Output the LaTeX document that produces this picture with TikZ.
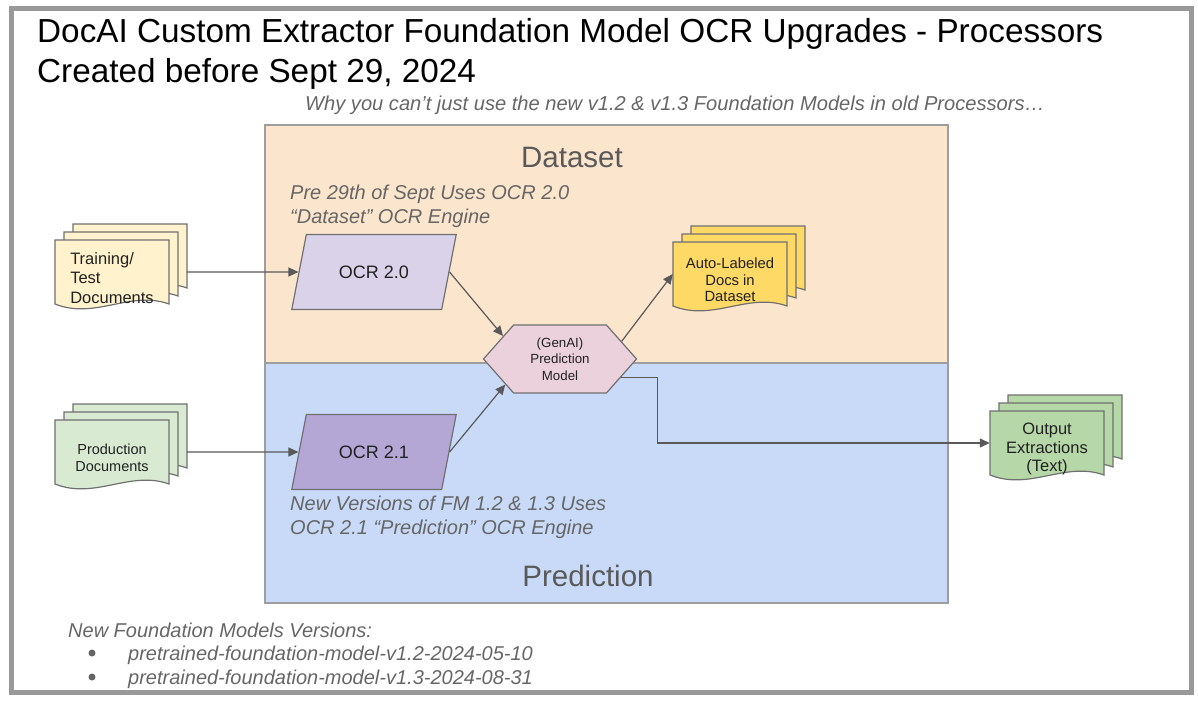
\documentclass[tikz,border=0pt]{standalone}
\usepackage{fontspec}
\setmainfont{Liberation Sans}
\usepackage{tikz}
\usetikzlibrary{shapes.geometric,shapes.symbols,arrows.meta}
\definecolor{framegray}{HTML}{999999}
\definecolor{regiongray}{HTML}{9E9E9E}
\definecolor{linegray}{HTML}{707070}
\definecolor{arrowgray}{HTML}{595959}
\definecolor{notegray}{HTML}{666666}
\definecolor{labelgray}{HTML}{595959}
\definecolor{textdark}{HTML}{212121}
\definecolor{datasetfill}{HTML}{FCE5CD}
\definecolor{predfill}{HTML}{C9DAF8}
\definecolor{ocrold}{HTML}{D9D2E9}
\definecolor{ocrnew}{HTML}{B4A7D6}
\definecolor{modelfill}{HTML}{EAD1DC}
\definecolor{trainfill}{HTML}{FFF2CC}
\definecolor{prodfill}{HTML}{D9EAD3}
\definecolor{autofill}{HTML}{FFD966}
\definecolor{outfill}{HTML}{B6D7A8}

\begin{document}
\begin{tikzpicture}[x=1pt, y=-1pt,
		arr/.style={draw=arrowgray, line width=1.2, -{Triangle[length=10,width=9]}},
		sheet/.style={draw=linegray, line width=1.2},
		doctext/.style={minimum width=114, minimum height=76, inner sep=0, text=textdark},
		ocrbox/.style={trapezium, trapezium left angle=67, trapezium right angle=113, trapezium stretches=true,
			minimum width=165, minimum height=75, draw=linegray, line width=1.2, text=textdark,
			font=\fontsize{18}{22}\selectfont},
		note/.style={text=notegray, font=\fontsize{20}{24}\selectfont\itshape, inner sep=0}]
	\useasboundingbox (0,0) rectangle (1198,701);
	\draw[framegray, line width=5] (11,9) rectangle (1191,692);
	\node[anchor=base west, inner sep=0, font=\fontsize{33.3}{39}\selectfont] (title) at (37,43) {DocAI Custom Extractor Foundation Model OCR Upgrades - Processors};
	\node[anchor=base west, inner sep=0, font=\fontsize{33.3}{39}\selectfont] (title2) at (37,82) {Created before Sept 29, 2024};
	\node[note, anchor=base, font=\fontsize{20.1}{24}\selectfont\itshape] (why) at (675,110) {Why you can’t just use the new v1.2 \& v1.3 Foundation Models in old Processors…};
	% regions
	\draw[draw=regiongray, line width=1.2, fill=datasetfill] (265,125) rectangle (948,363);
	\draw[draw=regiongray, line width=1.2, fill=predfill] (265,363) rectangle (948,603);
	\node[text=labelgray, font=\fontsize{29.5}{34}\selectfont] (dslabel) at (572,157) {Dataset};
	\node[text=labelgray, font=\fontsize{29.5}{34}\selectfont] (predlabel) at (588,576) {Prediction};
	\node[note, anchor=base west] (pre1) at (290,199) {Pre 29th of Sept Uses OCR 2.0};
	\node[note, anchor=base west] (pre2) at (290,223) {“Dataset” OCR Engine};
	\node[note, anchor=base west] (fm1) at (290,510) {New Versions of FM 1.2 \& 1.3 Uses};
	\node[note, anchor=base west] (fm2) at (290,534) {OCR 2.1 “Prediction” OCR Engine};
	% document stacks
	\foreach \d in {2,1,0}
		\draw[sheet, fill=trainfill, shift={(9*\d,-8*\d)}] (55,240) -- (169,240) -- (169,304) .. controls (130,290) and (95,320) .. (55,304) -- cycle;
	\node[doctext, align=left, font=\fontsize{16.5}{19.5}\selectfont] (train) at (112,278) {Training/\\Test\\Documents};
	\foreach \d in {2,1,0}
		\draw[sheet, fill=prodfill, shift={(9*\d,-8*\d)}] (55,420) -- (169,420) -- (169,484) .. controls (130,470) and (95,500) .. (55,484) -- cycle;
	\node[doctext, align=center, font=\fontsize{14.5}{17}\selectfont] (prod) at (112,458) {Production\\Documents};
	\foreach \d in {2,1,0}
		\draw[sheet, fill=autofill, shift={(9*\d,-8*\d)}] (673,242) -- (787,242) -- (787,306) .. controls (748,292) and (713,322) .. (673,306) -- cycle;
	\node[doctext, align=center, font=\fontsize{14.8}{16.7}\selectfont] (auto) at (730,280) {Auto-Labeled\\Docs in\\Dataset};
	\foreach \d in {2,1,0}
		\draw[sheet, fill=outfill, shift={(9*\d,-8*\d)}] (990,411) -- (1104,411) -- (1104,475) .. controls (1065,461) and (1030,491) .. (990,475) -- cycle;
	\node[doctext, align=center, font=\fontsize{16.5}{18.7}\selectfont] (out) at (1047,449) {Output\\Extractions\\(Text)};
	% ocr engines and model
	\node[ocrbox, fill=ocrold] (ocr20) at (374,272) {OCR 2.0};
	\node[ocrbox, fill=ocrnew] (ocr21) at (374,452) {OCR 2.1};
	\node[signal, signal to=west and east, signal pointer angle=97, minimum width=153, minimum height=68,
		draw=linegray, line width=1.2, fill=modelfill, align=center, text=textdark,
		font=\fontsize{13.3}{16.7}\selectfont] (model) at (560,359) {(GenAI)\\Prediction\\Model};
	% connectors
	\draw[arr] ([shift={(18,-6)}]train.east) -- (ocr20);
	\draw[arr] ([shift={(18,-6)}]prod.east) -- (ocr21);
	\draw[arr] (ocr20.east) -- (model.158);
	\draw[arr] (ocr21.east) -- (model.205);
	\draw[arr] (model.16) -- ([shift={(0,-6)}]auto.west);
	\draw[arr] (model.-17) -- ++(37,0) |- ([shift={(0,-6)}]out.west);
	% versions
	\node[note, anchor=base west] (versions) at (68,637) {New Foundation Models Versions:};
	\fill[notegray] (92,653) circle (3.5);
	\fill[notegray] (92,677) circle (3.5);
	\node[note, anchor=base west] (ver12) at (128,660) {pretrained-foundation-model-v1.2-2024-05-10};
	\node[note, anchor=base west] (ver13) at (128,684) {pretrained-foundation-model-v1.3-2024-08-31};
\end{tikzpicture}
\end{document}
